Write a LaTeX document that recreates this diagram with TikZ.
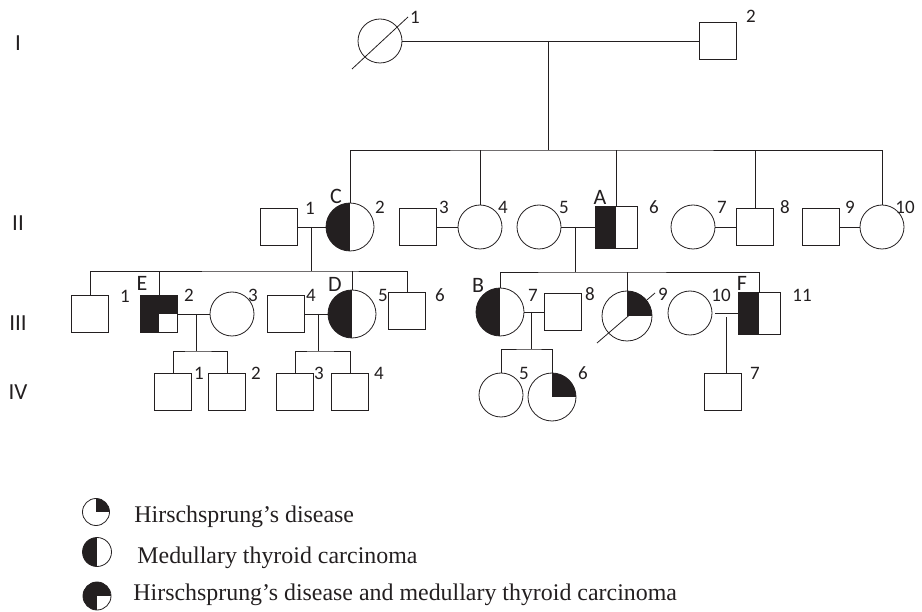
\documentclass[tikz,border=0pt]{standalone}
\usepackage{fontspec}
\setmainfont{Liberation Serif}
\newfontfamily\pedfont{Carlito}
\definecolor{ink}{RGB}{35,31,32}

\begin{document}
\begin{tikzpicture}[x=1pt, y=-1pt, line width=0.8pt, color=ink]
    \tikzset{male/.style={draw, rectangle, minimum size=37pt, inner sep=0pt}}
    \tikzset{female/.style={draw, circle, minimum size=44pt, inner sep=0pt}}
    \tikzset{mtc/.style={path picture={\fill (path picture bounding box.south west) rectangle (path picture bounding box.north);}}}
    \tikzset{hd/.style={path picture={\fill (path picture bounding box.center) rectangle (path picture bounding box.north east);}}}
    \tikzset{hdmtc/.style={path picture={\fill (path picture bounding box.south west) rectangle (path picture bounding box.north);
        \fill (path picture bounding box.west) rectangle (path picture bounding box.north east);}}}
    \tikzset{num/.style={font=\pedfont\fontsize{19}{19}\selectfont, inner sep=0pt}}
    \tikzset{tag/.style={font=\pedfont\fontsize{22}{22}\selectfont, inner sep=0pt}}
    \tikzset{gen/.style={font=\pedfont\fontsize{23}{23}\selectfont, inner sep=0pt}}
    \tikzset{keytext/.style={font=\fontsize{23.9}{26}\selectfont, anchor=base west, inner sep=0pt}}
    \useasboundingbox (0, 0) rectangle (922, 612);

    % generation I
    \node[female] (I1) at (380, 41) {};
    \node[male] (I2) at (718, 41) {};
    \draw ([shift={(-28, 28)}]I1.center) -- ([shift={(28, -24)}]I1.center);
    \draw (I1) -- (I2);
    \coordinate (mI) at (548, 41);
    \coordinate (sI) at (548, 150);
    \draw (mI) -- (sI);

    % generation II
    \node[male] (II1) at (279, 227) {};
    \node[female, mtc, minimum size=48pt] (C) at (350, 227) {};
    \node[male] (II3) at (418, 227) {};
    \node[female] (II4) at (480, 227) {};
    \node[female] (II5) at (539, 227) {};
    \node[male, mtc, minimum size=42pt] (A) at (616, 227) {};
    \node[female] (II7) at (693, 227) {};
    \node[male] (II8) at (755, 227) {};
    \node[male] (II9) at (821, 227) {};
    \node[female] (II10) at (882, 227) {};
    \draw (C) |- (sI) -| (II10);
    \draw (II4) -- (II4 |- sI);
    \draw (A) -- (A |- sI);
    \draw (II8) -- (II8 |- sI);
    \draw (II1) -- (C);
    \draw (II3) -- (II4);
    \draw (II5) -- (A);
    \draw (II7) -- (II8);
    \draw (II9) -- (II10);
    \coordinate (mC) at (311, 227);
    \coordinate (sC) at (311, 271);
    \draw (mC) -- (sC);
    \coordinate (mA) at (575, 227);
    \coordinate (sA) at (575, 272);
    \draw (mA) -- (sA);

    % generation III
    \node[male] (III1) at (90, 314) {};
    \node[male, hdmtc] (E) at (159, 314) {};
    \node[female] (III3) at (232, 314) {};
    \node[male] (III4) at (286, 314) {};
    \node[female, mtc, minimum size=48pt] (D) at (352, 314) {};
    \node[male] (III6) at (407, 311) {};
    \node[female, mtc, minimum size=48pt] (B) at (500, 312) {};
    \node[male] (III8) at (563, 312) {};
    \node[female, hd, minimum size=50pt] (III9) at (627, 316) {};
    \draw ([shift={(-30, 27)}]III9.center) -- ([shift={(28, -23)}]III9.center);
    \node[female] (III10) at (690, 313) {};
    \node[male, mtc, minimum size=42pt] (F) at (759, 313) {};
    \draw (III1) |- (sC) -| (III6);
    \draw (E) -- (E |- sC);
    \draw (D) -- (D |- sC);
    \draw (B) |- (sA) -| (F);
    \draw (III9) -- (III9 |- sA);
    \draw (E) -- (III3);
    \draw (III4) -- (D);
    \draw (B) -- (III8);
    \draw[shorten <=3pt] (III10) -- (F);
    \coordinate (mE) at (196, 314);
    \coordinate (sE) at (196, 351);
    \draw (mE) -- (sE);
    \coordinate (mD) at (318, 314);
    \coordinate (sD) at (318, 351);
    \draw (mD) -- (sD);
    \coordinate (mB) at (531, 312);
    \coordinate (sB) at (531, 349);
    \draw (mB) -- (sB);
    \coordinate (mF) at (726, 317);

    % generation IV
    \node[male] (IV1) at (173, 392) {};
    \node[male] (IV2) at (227, 392) {};
    \node[male] (IV3) at (295, 392) {};
    \node[male] (IV4) at (350, 392) {};
    \node[female] (IV5) at (501, 395) {};
    \node[female, hd, minimum size=48pt] (IV6) at (552, 397) {};
    \node[male] (IV7) at (723, 392) {};
    \draw (IV1) |- (sE) -| (IV2);
    \draw (IV3) |- (sD) -| (IV4);
    \draw (IV5) |- (sB) -| (IV6);
    \draw (mF) -- (mF |- IV7.north);

    % numbers and letters
    \foreach \x/\y/\t [count=\i] in {415/17/1, 751/16/2,
        310/208/1, 380/207/2, 444/207/3, 503/207/4, 564/207/5, 654/207/6, 722/207/7, 785/207/8, 850/207/9, 905/207/10,
        125/296/1, 189/295/2, 253/295/3, 311/295/4, 383/295/5, 440/295/6, 533/295/7, 590/294/8, 663/294/9, 721/295/10, 802/295/11,
        199/373/1, 256/373/2, 319/373/3, 379/373/4, 524/373/5, 583/373/6, 755/373/7}
        \node[num] (n\i) at (\x, \y) {\t};
    \foreach \x/\y/\t in {336/196/C, 600/197/A, 142/283/E, 335/284/D, 478/285/B, 742/283/F}
        \node[tag] (tag\t) at (\x, \y) {\t};
    \foreach \y/\t in {43/I, 223/II, 323/III, 392/IV}
        \node[gen] (gen\t) at (18, \y) {\t};

    % key
    \node[female, hd, minimum size=27pt] (key1) at (96, 512) {};
    \node[female, mtc, minimum size=29pt] (key2) at (97, 552) {};
    \node[female, hdmtc, minimum size=28pt] (key3) at (97, 596) {};
    \node[keytext] (txt1) at (134, 522) {Hirschsprung’s disease};
    \node[keytext] (txt2) at (137, 563) {Medullary thyroid carcinoma};
    \node[keytext] (txt3) at (133, 600) {Hirschsprung’s disease and medullary thyroid carcinoma};
\end{tikzpicture}
\end{document}
